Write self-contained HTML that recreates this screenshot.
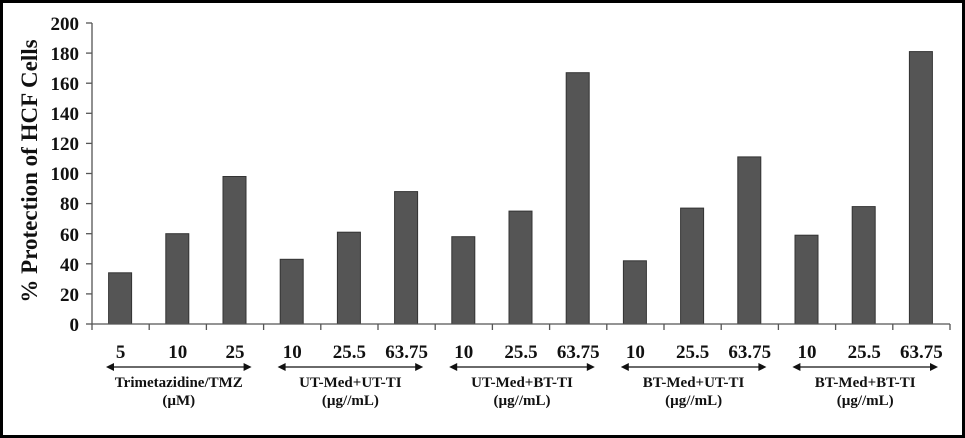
<!DOCTYPE html>
<html><head><style>
body{margin:0;background:#fff}
svg{display:block}
text{font-family:"Liberation Serif",serif;font-weight:bold;fill:#111}
</style></head><body>
<svg width="965" height="438" viewBox="0 0 965 438">
<rect x="1.5" y="1.5" width="962" height="435" fill="#fff" stroke="#000" stroke-width="3"/>
<g fill="#555" stroke="#333" stroke-width="1">
<rect x="108.6" y="272.8" width="23" height="51.2"/>
<rect x="165.8" y="233.7" width="23" height="90.3"/>
<rect x="223" y="176.5" width="23" height="147.5"/>
<rect x="280.2" y="259.3" width="23" height="64.7"/>
<rect x="337.4" y="232.2" width="23" height="91.8"/>
<rect x="394.6" y="191.6" width="23" height="132.4"/>
<rect x="451.8" y="236.7" width="23" height="87.3"/>
<rect x="509" y="211.1" width="23" height="112.9"/>
<rect x="566.2" y="72.7" width="23" height="251.3"/>
<rect x="623.4" y="260.8" width="23" height="63.2"/>
<rect x="680.6" y="208.1" width="23" height="115.9"/>
<rect x="737.8" y="156.9" width="23" height="167.1"/>
<rect x="795" y="235.2" width="23" height="88.8"/>
<rect x="852.2" y="206.6" width="23" height="117.4"/>
<rect x="909.4" y="51.6" width="23" height="272.4"/>
</g>
<g stroke="#555" stroke-width="1.3">
<line x1="92" y1="23" x2="92" y2="330"/>
<line x1="92" y1="324" x2="950" y2="324"/>
<line x1="86" y1="324" x2="92" y2="324"/><line x1="86" y1="293.9" x2="92" y2="293.9"/><line x1="86" y1="263.8" x2="92" y2="263.8"/><line x1="86" y1="233.7" x2="92" y2="233.7"/><line x1="86" y1="203.6" x2="92" y2="203.6"/><line x1="86" y1="173.5" x2="92" y2="173.5"/><line x1="86" y1="143.4" x2="92" y2="143.4"/><line x1="86" y1="113.3" x2="92" y2="113.3"/><line x1="86" y1="83.2" x2="92" y2="83.2"/><line x1="86" y1="53.1" x2="92" y2="53.1"/><line x1="86" y1="23" x2="92" y2="23"/>
<line x1="149.2" y1="324" x2="149.2" y2="330"/><line x1="206.4" y1="324" x2="206.4" y2="330"/><line x1="263.6" y1="324" x2="263.6" y2="330"/><line x1="320.8" y1="324" x2="320.8" y2="330"/><line x1="378" y1="324" x2="378" y2="330"/><line x1="435.2" y1="324" x2="435.2" y2="330"/><line x1="492.4" y1="324" x2="492.4" y2="330"/><line x1="549.6" y1="324" x2="549.6" y2="330"/><line x1="606.8" y1="324" x2="606.8" y2="330"/><line x1="664" y1="324" x2="664" y2="330"/><line x1="721.2" y1="324" x2="721.2" y2="330"/><line x1="778.4" y1="324" x2="778.4" y2="330"/><line x1="835.6" y1="324" x2="835.6" y2="330"/><line x1="892.8" y1="324" x2="892.8" y2="330"/><line x1="950" y1="324" x2="950" y2="330"/>
</g>
<g font-size="19" text-anchor="end">
<text x="79" y="331">0</text><text x="79" y="301">20</text><text x="79" y="271">40</text><text x="79" y="241">60</text><text x="79" y="210">80</text><text x="79" y="180">100</text><text x="79" y="150">120</text><text x="79" y="120">140</text><text x="79" y="90">160</text><text x="79" y="60">180</text><text x="79" y="30">200</text>
</g>
<text transform="translate(37,171) rotate(-90)" font-size="23" text-anchor="middle">% Protection of HCF Cells</text>
<g font-size="19" text-anchor="middle">
<text x="120.6" y="358">5</text><text x="177.8" y="358">10</text><text x="235" y="358">25</text>
<text x="292.2" y="358">10</text><text x="349.4" y="358">25.5</text><text x="406.6" y="358">63.75</text>
<text x="463.8" y="358">10</text><text x="521" y="358">25.5</text><text x="578.2" y="358">63.75</text>
<text x="635.4" y="358">10</text><text x="692.6" y="358">25.5</text><text x="749.8" y="358">63.75</text>
<text x="807" y="358">10</text><text x="864.2" y="358">25.5</text><text x="921.4" y="358">63.75</text>
</g>
<g stroke="#111" stroke-width="1.3">
<line x1="112" y1="367" x2="246" y2="367"/><line x1="283" y1="367" x2="417" y2="367"/><line x1="455" y1="367" x2="589" y2="367"/><line x1="626" y1="367" x2="760" y2="367"/><line x1="798" y1="367" x2="932" y2="367"/>
</g>
<g fill="#111">
<polygon points="106,367 114,363 114,371"/><polygon points="251.6,367 243.6,363 243.6,371"/>
<polygon points="277.6,367 285.6,363 285.6,371"/><polygon points="423.2,367 415.2,363 415.2,371"/>
<polygon points="449.2,367 457.2,363 457.2,371"/><polygon points="594.8,367 586.8,363 586.8,371"/>
<polygon points="620.8,367 628.8,363 628.8,371"/><polygon points="766.4,367 758.4,363 758.4,371"/>
<polygon points="792.4,367 800.4,363 800.4,371"/><polygon points="938,367 930,363 930,371"/>
</g>
<g font-size="15" text-anchor="middle">
<text x="178.8" y="387">Trimetazidine/TMZ</text><text x="178.8" y="405">(µM)</text>
<text x="350.4" y="387">UT-Med+UT-TI</text><text x="350.4" y="405">(µg//mL)</text>
<text x="522" y="387">UT-Med+BT-TI</text><text x="522" y="405">(µg//mL)</text>
<text x="693.6" y="387">BT-Med+UT-TI</text><text x="693.6" y="405">(µg//mL)</text>
<text x="865.2" y="387">BT-Med+BT-TI</text><text x="865.2" y="405">(µg//mL)</text>
</g>
</svg>
</body></html>
